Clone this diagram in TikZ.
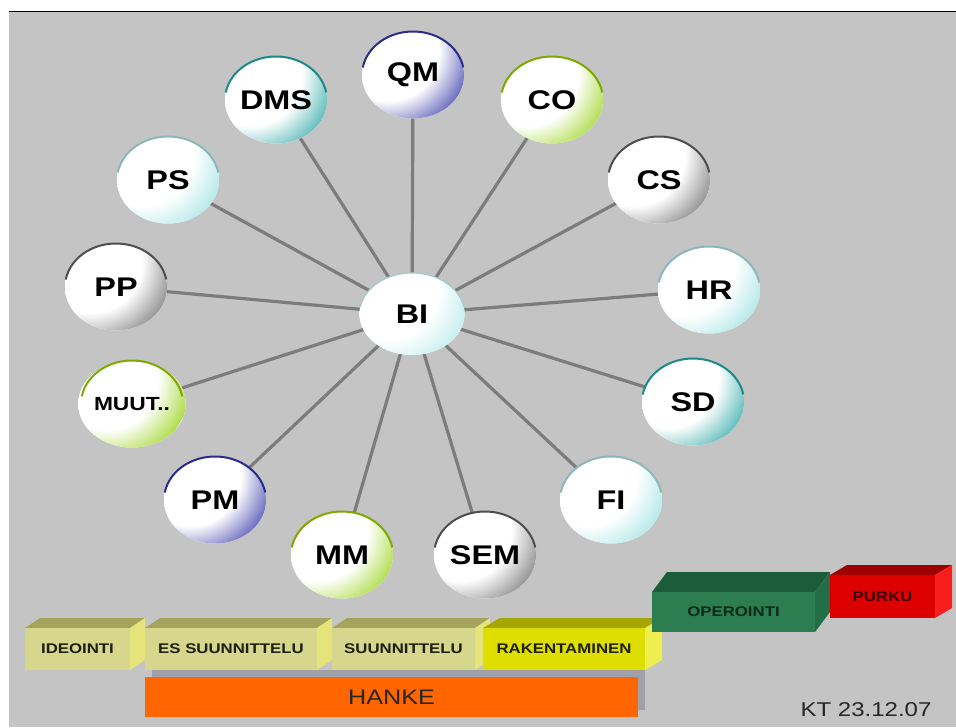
\documentclass[tikz,border=0pt]{standalone}
\usepackage{fontspec}
\newfontfamily\lbl[FakeStretch=1.2]{Liberation Sans}
\usetikzlibrary{shapes.geometric}

\pgfdeclarelayer{back}
\pgfsetlayers{back,main}

% white ball, tinted towards the lower right
\pgfdeclareradialshading[bubcol]{bubshade}{\pgfpoint{0bp}{0bp}}%
  {color(0bp)=(white); color(15bp)=(white); color(25bp)=(bubcol); color(50bp)=(bubcol)}

% bubble colours: R = top rim, S = lower-right tint
\definecolor{navyR}{HTML}{2B2B8C}  \definecolor{navyS}{HTML}{6464BC}
\definecolor{tealR}{HTML}{1A8A8A}  \definecolor{tealS}{HTML}{5CBABA}
\definecolor{limeR}{HTML}{7FA800}  \definecolor{limeS}{HTML}{B0DC4C}
\definecolor{aquaR}{HTML}{8CB8B8}  \definecolor{aquaS}{HTML}{B4E8E8}
\definecolor{greyR}{HTML}{4E4E4E}  \definecolor{greyS}{HTML}{909090}
\definecolor{paleR}{HTML}{A4CACA}  \definecolor{paleS}{HTML}{C6EEEE}

% phase box colours: T = top, D = right side, F = front, X = text
\definecolor{khakiT}{HTML}{A4A45C} \definecolor{khakiD}{HTML}{E4E47A}
\definecolor{khakiF}{HTML}{D6D68C} \definecolor{khakiX}{HTML}{1E1E10}
\definecolor{lemonT}{HTML}{A6A600} \definecolor{lemonD}{HTML}{EEEE50}
\definecolor{lemonF}{HTML}{DEDE00} \definecolor{lemonX}{HTML}{202000}
\definecolor{pineT}{HTML}{1C5C3A}  \definecolor{pineD}{HTML}{236E46}
\definecolor{pineF}{HTML}{2C7D50}  \definecolor{pineX}{HTML}{0E2A1A}
\definecolor{crimT}{HTML}{9E0000}  \definecolor{crimD}{HTML}{F81E1E}
\definecolor{crimF}{HTML}{DC0000}  \definecolor{crimX}{HTML}{3A0000}

\definecolor{canvasgrey}{HTML}{C4C4C4}
\definecolor{spokegrey}{HTML}{7C7C7C}
\definecolor{shadowgrey}{HTML}{A0A0A8}
\definecolor{hankeorange}{HTML}{FF6600}

\tikzset{
  bubble/.style={ellipse, inner sep=0pt, minimum width=51pt, minimum height=43.5pt,
    fill=white, text=black, font=\lbl\bfseries\fontsize{13.5}{14}\selectfont,
    path picture={\colorlet{bubcol}{#1}%
      \shade[shading=bubshade] ([shift={(-12.5pt,12.5pt)}]path picture bounding box.center) circle (42.5pt);}},
  rim/.style={draw=#1, line width=1pt},
  spoke/.style={draw=spokegrey, line width=1.6pt},
  phaselabel/.style={inner sep=0pt, font=\lbl\bfseries\fontsize{7}{8}\selectfont},
}

% name, x, y, label, colour family
\newcommand\bub[5]{%
  \node[bubble=#5S] (#1) at (#2,#3) {#4};
  \draw[rim=#5R] ([shift={(170:25.5pt and 21.75pt)}]#1.center)
    arc[start angle=170, end angle=10, x radius=25.5pt, y radius=21.75pt];}

% name, left, top, right, bottom, depth x, depth y, colour family, label
\newcommand\slab[9]{%
  \fill[#8T] (#2,#3) -- ({#2+#6},{#3-#7}) -- ({#4+#6},{#3-#7}) -- (#4,#3) -- cycle;
  \fill[#8D] (#4,#3) -- ({#4+#6},{#3-#7}) -- ({#4+#6},{#5-#7}) -- (#4,#5) -- cycle;
  \fill[#8F] (#2,#3) rectangle (#4,#5);
  \node[phaselabel, text=#8X] (#1) at ({(#2+#4)/2},{(#3+#5)/2}) {#9};}

\begin{document}
\begin{tikzpicture}[x=0.5pt, y=-0.5pt]
\useasboundingbox (0,0) rectangle (956,727);

\begin{pgfonlayer}{back}
  \fill[white] (0,0) rectangle (956,727);
  \fill[canvasgrey] (9,12) rectangle (956,727);
  \draw[black, line width=0.8pt] (9,11.5) -- (956,11.5);
\end{pgfonlayer}

% hub and satellites
\node[bubble=paleS, minimum width=52.5pt, minimum height=41pt] (BI) at (412,314) {BI};
\draw[rim=paleR, line width=0.6pt] ([shift={(170:26.25pt and 20.5pt)}]BI.center)
  arc[start angle=170, end angle=10, x radius=26.25pt, y radius=20.5pt];

\bub{QM}{413}{75}{QM}{navy}
\bub{DMS}{276}{100}{DMS}{teal}
\bub{CO}{552}{100}{CO}{lime}
\bub{PS}{168}{180}{PS}{aqua}
\bub{CS}{659}{180}{CS}{grey}
\bub{PP}{116}{287}{PP}{grey}
\bub{HR}{709}{290}{HR}{aqua}
\node[bubble=limeS, font=\lbl\bfseries\fontsize{9.5}{11}\selectfont] (MUUT) at (132,404) {MUUT..};
\draw[rim=limeR] ([shift={(170:25.5pt and 21.75pt)}]MUUT.center)
  arc[start angle=170, end angle=10, x radius=25.5pt, y radius=21.75pt];
\bub{SD}{693}{402}{SD}{teal}
\bub{PM}{215}{500}{PM}{navy}
\bub{FI}{611}{500}{FI}{aqua}
\bub{MM}{342}{555}{MM}{lime}
\bub{SEM}{485}{555}{SEM}{grey}

\begin{pgfonlayer}{back}
  \foreach \n in {QM,DMS,CO,PS,CS,PP,HR,MUUT,SD,PM,FI,MM,SEM}
    \draw[spoke] (BI.center) -- (\n.center);
\end{pgfonlayer}

% project phases
\slab{idea}{25}{628}{130}{670}{15}{10}{khaki}{IDEOINTI}
\slab{pre}{145}{628}{317}{670}{15}{10}{khaki}{ES SUUNNITTELU}
\slab{design}{332}{628}{475}{670}{15}{10}{khaki}{SUUNNITTELU}
\slab{build}{483}{628}{645}{670}{17}{10}{lemon}{RAKENTAMINEN}
\slab{oper}{652}{592}{815}{632}{15}{20}{pine}{OPEROINTI}
\slab{demol}{830}{575}{935}{618}{17}{10}{crim}{PURKU}

% project bar
\fill[shadowgrey] (152,670) rectangle (645,710);
\fill[hankeorange] (145,677) rectangle (638,717);
\node[inner sep=0pt, text=black!85, font=\lbl\fontsize{10.5}{12}\selectfont] (hanke) at (391.5,697) {HANKE};

\node[inner sep=0pt, text=black!85, font=\lbl\fontsize{10}{12}\selectfont] (stamp) at (866,710) {KT 23.12.07};
\end{tikzpicture}
\end{document}
